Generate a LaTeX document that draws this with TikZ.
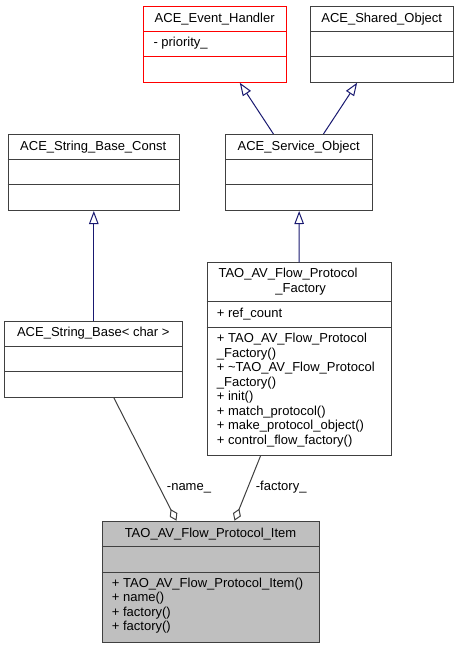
\documentclass[tikz,border=0pt]{standalone}
\usepackage{fontspec}
\setmainfont{Liberation Sans}
\usetikzlibrary{arrows.meta}
\definecolor{mblue}{RGB}{25,25,112}
\definecolor{bord}{RGB}{64,64,64}
\definecolor{itemfill}{RGB}{191,191,191}
\tikzset{
  cls/.style={draw=bord, line width=1pt, rectangle, inner sep=0pt, anchor=north west},
  txt/.style={inner sep=0pt, anchor=base, font=\fontsize{13}{15}\selectfont},
  ltxt/.style={txt, anchor=base west},
  divider/.style={draw=bord, line width=1pt},
  inh/.style={draw=mblue, line width=1pt, -{Triangle[open, length=13pt, width=9.5pt]}},
  agg/.style={draw=bord, line width=1pt, {Diamond[open, length=13pt, width=8.5pt]}-},
}
\begin{document}
\begin{tikzpicture}[x=1pt,y=-1pt]
\useasboundingbox (0,0) rectangle (457,648);
% ACE_Event_Handler
\node[cls, draw=red, minimum width=142.7pt, minimum height=76pt] (eh) at (143.3,5.7) {};
\draw[divider, draw=red] ([yshift=-26pt]eh.north west) -- ([yshift=-26pt]eh.north east);
\draw[divider, draw=red] ([yshift=-51pt]eh.north west) -- ([yshift=-51pt]eh.north east);
\node[txt] (ehT) at (214.7,22.7) {ACE\_Event\_Handler};
\node[ltxt] (ehA) at (153.3,46.7) {- priority\_};
% ACE_Shared_Object
\node[cls, minimum width=143.3pt, minimum height=76pt] (so) at (310,5.7) {};
\draw[divider] ([yshift=-26pt]so.north west) -- ([yshift=-26pt]so.north east);
\draw[divider] ([yshift=-51pt]so.north west) -- ([yshift=-51pt]so.north east);
\node[txt] (soT) at (381.7,22.7) {ACE\_Shared\_Object};
% ACE_String_Base_Const
\node[cls, minimum width=171pt, minimum height=76pt] (sbc) at (7.7,134) {};
\draw[divider] ([yshift=-25pt]sbc.north west) -- ([yshift=-25pt]sbc.north east);
\draw[divider] ([yshift=-50.3pt]sbc.north west) -- ([yshift=-50.3pt]sbc.north east);
\node[txt] (sbcT) at (93.2,150.7) {ACE\_String\_Base\_Const};
% ACE_Service_Object
\node[cls, minimum width=146.7pt, minimum height=76pt] (svc) at (225.3,134) {};
\draw[divider] ([yshift=-25pt]svc.north west) -- ([yshift=-25pt]svc.north east);
\draw[divider] ([yshift=-50.3pt]svc.north west) -- ([yshift=-50.3pt]svc.north east);
\node[txt] (svcT) at (298.7,150.7) {ACE\_Service\_Object};
% ACE_String_Base<char>
\node[cls, minimum width=178pt, minimum height=76pt] (sb) at (4.3,320.7) {};
\draw[divider] ([yshift=-25.3pt]sb.north west) -- ([yshift=-25.3pt]sb.north east);
\draw[divider] ([yshift=-50.3pt]sb.north west) -- ([yshift=-50.3pt]sb.north east);
\node[txt] (sbT) at (93.3,336.7) {ACE\_String\_Base< char >};
% TAO_AV_Flow_Protocol_Factory
\node[cls, minimum width=184pt, minimum height=192.7pt] (fac) at (206.7,262.3) {};
\draw[divider] ([yshift=-39.4pt]fac.north west) -- ([yshift=-39.4pt]fac.north east);
\draw[divider] ([yshift=-65pt]fac.north west) -- ([yshift=-65pt]fac.north east);
\node[txt] (facT1) at (288,277.7) {TAO\_AV\_Flow\_Protocol};
\node[txt] (facT2) at (300.7,292.7) {\_Factory};
\node[ltxt] (facA) at (216.7,317.7) {+ ref\_count};
\node[ltxt] (facM1) at (216.7,342.5) {+ TAO\_AV\_Flow\_Protocol};
\node[ltxt] (facM2) at (216.7,357.05) {\_Factory()};
\node[ltxt] (facM3) at (216.7,371.6) {+ \textasciitilde TAO\_AV\_Flow\_Protocol};
\node[ltxt] (facM4) at (216.7,386.15) {\_Factory()};
\node[ltxt] (facM5) at (216.7,400.7) {+ init()};
\node[ltxt] (facM6) at (216.7,415.25) {+ match\_protocol()};
\node[ltxt] (facM7) at (216.7,429.8) {+ make\_protocol\_object()};
\node[ltxt] (facM8) at (216.7,444.35) {+ control\_flow\_factory()};
% TAO_AV_Flow_Protocol_Item
\node[cls, fill=itemfill, minimum width=217.6pt, minimum height=121pt] (item) at (101.7,520.7) {};
\draw[divider] ([yshift=-26pt]item.north west) -- ([yshift=-26pt]item.north east);
\draw[divider] ([yshift=-51.3pt]item.north west) -- ([yshift=-51.3pt]item.north east);
\node[txt] (itemT) at (210.5,537) {TAO\_AV\_Flow\_Protocol\_Item};
\node[ltxt] (itemM1) at (111.7,587.2) {+ TAO\_AV\_Flow\_Protocol\_Item()};
\node[ltxt] (itemM2) at (111.7,601.7) {+ name()};
\node[ltxt] (itemM3) at (111.7,616.2) {+ factory()};
\node[ltxt] (itemM4) at (111.7,630.7) {+ factory()};
% inheritance
\draw[inh] ([xshift=-25.7pt]svc.north) -- ([xshift=24.6pt]eh.south);
\draw[inh] ([xshift=24.3pt]svc.north) -- ([xshift=-25pt]so.south);
\draw[inh] (sb.north) -- (sb.north |- sbc.south);
\draw[inh] (fac.north) -- (svc.south);
% aggregation
\draw[agg] ([xshift=-34.5pt]item.north) -- ([xshift=20pt]sb.south);
\draw[agg] ([xshift=23.5pt]item.north) -- ([xshift=-38.7pt]fac.south);
\node[txt] (lname) at (189,490.7) {-name\_};
\node[txt] (lfac) at (281.2,490.7) {-factory\_};
\end{tikzpicture}
\end{document}
